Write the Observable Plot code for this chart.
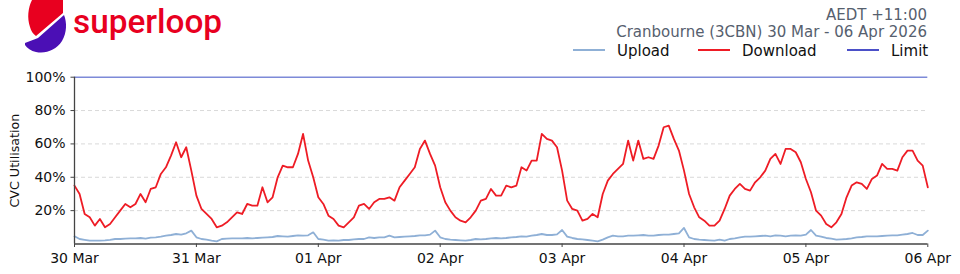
<!DOCTYPE html>
<html>
<head>
<meta charset="utf-8">
<script src="https://cdn.jsdelivr.net/npm/d3@7"></script>
<script src="https://cdn.jsdelivr.net/npm/@observablehq/plot@0.6"></script>
<style>
  html, body { margin: 0; padding: 0; background: #fff; }
  body { width: 960px; height: 274px; overflow: hidden; font-family: "DejaVu Sans", sans-serif; }
  #header { display: block; }
  #chart svg { display: block; }
  #chart g[aria-label="y-axis label"] text { font-size: 12.7px; }
</style>
</head>
<body>
<svg id="header" width="960" height="66" xmlns="http://www.w3.org/2000/svg">
  <path d="M36 36 L63 13 L63 0 L32 0 C28 8 27 18 30 27 C31 31 33 34 36 36 Z" fill="#e8001f"/>
  <path d="M38 38 L64 15 C67 22 67 33 62 41 C56 50 46 54 36 52 C31 51 27 48 25 45 L25 43 C29 41 34 40 38 38 Z" fill="#4b0fb5"/>
  <text x="73" y="33" font-family="Roboto" font-weight="500" font-size="34" fill="#e8001f" textLength="149" lengthAdjust="spacingAndGlyphs">superloop</text>
  <g id="meta" font-family="DejaVu Sans" font-size="15" text-anchor="end" fill="#56606e"></g>
  <g id="legend" font-family="DejaVu Sans" font-size="15" fill="#111"></g>
</svg>
<div id="chart"></div>
<script>
// ---- text ----
const timezoneLabel = "AEDT +11:00";
const rangeLabel = "Cranbourne (3CBN) 30 Mar - 06 Apr 2026";
const seriesNames = ["Upload", "Download", "Limit"];
const seriesColors = ["#8fb0d6", "#ee1c25", "#4b50c8"];
const yLabel = "CVC Utilisation";

// ---- axes ----
const dayTicks = [0, 24, 48, 72, 96, 120, 144, 168];          // hours since 30 Mar 00:00
const dayLabels = ["30 Mar", "31 Mar", "01 Apr", "02 Apr", "03 Apr", "04 Apr", "05 Apr", "06 Apr"];
const yTicks = [20, 40, 60, 80, 100];
const gridValues = [20, 40, 60, 80];
const limit = 100;

// ---- series: hourly CVC utilisation (%) from 30 Mar 00:00 to 06 Apr 00:00 ----
const download = [
  35, 30, 18, 16, 11, 15, 10, 12, 16, 20, 24, 22, 24, 30, 25, 33, 34, 42, 46, 53, 61, 52, 58, 44,
  29, 21, 18, 15, 10, 11, 13, 16, 19, 18, 24, 23, 23, 34, 25, 28, 40, 47, 46, 46, 54, 66, 50, 40,
  28, 24, 17, 15, 11, 10, 13, 16, 23, 24, 21, 25, 27, 27, 28, 26, 34, 38, 42, 46, 57, 62, 54, 47,
  34, 25, 20, 16, 14, 13, 16, 20, 26, 27, 33, 29, 29, 35, 34, 35, 46, 44, 50, 50, 66, 63, 62, 58,
  44, 26, 21, 20, 14, 15, 18, 16, 30, 38, 42, 45, 48, 62, 50, 62, 51, 52, 51, 59, 70, 71, 63, 56,
  44, 30, 22, 16, 14, 11, 11, 14, 21, 29, 33, 36, 33, 32, 37, 40, 44, 51, 54, 48, 57, 57, 55, 49,
  39, 31, 20, 17, 12, 10, 13, 18, 28, 35, 37, 36, 33, 39, 41, 48, 45, 45, 44, 52, 56, 56, 50, 47,
  34
];
const upload = [
  4.6, 3, 2.5, 2, 2, 2, 2.2, 2.5, 3, 3, 3.2, 3.4, 3.4, 3.6, 3.2, 3.8, 4, 4.4, 5, 5.4, 6, 5.6, 6.4, 8,
  4, 3, 2.6, 2, 1.6, 3, 3.2, 3.4, 3.4, 3.4, 3.6, 3.4, 3.6, 3.8, 4, 4.2, 4.8, 4.6, 4.4, 4.8, 5.2, 5, 5.2, 7,
  3, 2.6, 2, 2.2, 2, 2.4, 2.4, 2.8, 3, 3, 4, 3.6, 4, 4, 5, 4, 4.2, 4.4, 4.6, 4.8, 5.2, 5.2, 5.6, 8,
  4, 3, 2.6, 2.4, 2.2, 2, 2.4, 3, 2.8, 3, 3.4, 3.6, 3.4, 3.6, 4, 4.2, 4.6, 4.4, 5, 5.4, 6, 5.4, 5.4, 5.8,
  8.4, 4.4, 3.6, 3, 2.8, 2.4, 2, 1.6, 2.6, 4, 5, 4.6, 4.6, 5, 5, 5.2, 5.4, 5, 5, 5.4, 5.6, 5.6, 6, 6.4,
  9.6, 4, 3, 2.6, 2.4, 2.2, 2, 2.6, 2, 3, 3.4, 4, 4.4, 4.4, 4.6, 4.8, 5, 4.6, 5.2, 5, 4.6, 5, 5.2, 5,
  5.6, 8.4, 5, 4.4, 3.6, 3.2, 2.6, 2.8, 3, 3.4, 4, 4.2, 4.6, 4.6, 4.6, 4.8, 5, 5.2, 5.2, 5.6, 6, 6.6, 5.4, 5.4,
  8
];

// ---- header text + legend ----
const NS = "http://www.w3.org/2000/svg";
const meta = document.getElementById("meta");
[[timezoneLabel, 20], [rangeLabel, 36.5]].forEach(([s, y]) => {
  const t = document.createElementNS(NS, "text");
  t.setAttribute("x", 927); t.setAttribute("y", y); t.textContent = s; meta.appendChild(t);
});
const legend = document.getElementById("legend");
const legendX = [573, 698, 847];
seriesNames.forEach((name, i) => {
  const l = document.createElementNS(NS, "line");
  l.setAttribute("x1", legendX[i]); l.setAttribute("x2", legendX[i] + 32);
  l.setAttribute("y1", 50); l.setAttribute("y2", 50);
  l.setAttribute("stroke", seriesColors[i]); l.setAttribute("stroke-width", 2);
  legend.appendChild(l);
  const t = document.createElementNS(NS, "text");
  t.setAttribute("x", legendX[i] + 44); t.setAttribute("y", 55.5); t.textContent = name;
  legend.appendChild(t);
});

// ---- chart ----
const rows = download.map((d, i) => ({hour: i, download: d, upload: upload[i]}));

const chart = Plot.plot({
  width: 960,
  height: 208,
  marginTop: 10.7,
  marginBottom: 30.5,
  marginLeft: 74,
  marginRight: 32.7,
  style: {fontFamily: "DejaVu Sans", fontSize: "14px", color: "#111", background: "#fff", overflow: "visible"},
  x: {domain: [0, 168]},
  y: {domain: [0, 100]},
  marks: [
    Plot.ruleY(gridValues, {stroke: "#d9d9d9", strokeWidth: 1, strokeDasharray: "4,3"}),
    Plot.ruleY([limit], {stroke: "#7d8ad8", strokeWidth: 1.5}),
    Plot.lineY(rows, {x: "hour", y: "upload", stroke: seriesColors[0], strokeWidth: 1.8}),
    Plot.lineY(rows, {x: "hour", y: "download", stroke: seriesColors[1], strokeWidth: 1.8}),
    Plot.axisX({ticks: dayTicks, tickFormat: d => dayLabels[dayTicks.indexOf(d)], tickSize: 3.5, tickPadding: 6, stroke: "#444", label: null}),
    Plot.axisY({ticks: yTicks, tickFormat: d => d + "%", tickSize: 3.5, tickPadding: 5.5, stroke: "#444",
                label: yLabel, labelAnchor: "center", labelOffset: 65, labelArrow: false}),
    Plot.ruleX([0], {stroke: "#444", strokeWidth: 1.3}),
    Plot.ruleY([0], {stroke: "#444", strokeWidth: 1.3})
  ]
});
document.getElementById("chart").appendChild(chart);
</script>
</body>
</html>
